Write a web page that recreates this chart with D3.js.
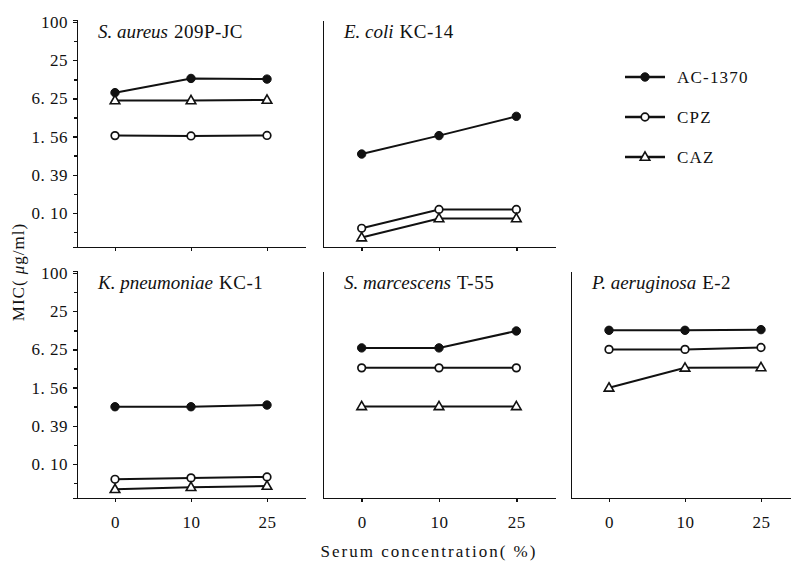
<!DOCTYPE html>
<html>
<head>
<meta charset="utf-8">
<script src="https://cdn.jsdelivr.net/npm/d3@7"></script>
<style>
  body { margin: 0; background: #fff; }
  text { font-family: "Liberation Serif", "Times New Roman", serif; fill: #111; }
  .axis path, .axis line { stroke: #111; stroke-width: 1.5; shape-rendering: crispEdges; }
  .axis text { font-size: 17px; letter-spacing: 0.5px; }
</style>
</head>
<body>
<div id="chart"></div>
<script>
// data (MIC, ug/ml)
var concentrations = ["0", "10", "25"];
var organisms = ["S. aureus", "E. coli", "K. pneumoniae", "S. marcescens", "P. aeruginosa"];
var strains = ["209P-JC", "KC-14", "KC-1", "T-55", "E-2"];
var drugs = ["AC-1370", "CPZ", "CAZ"];
var ac1370 = [[7.7, 12.9, 12.6], [0.83, 1.62, 3.26], [0.78, 0.78, 0.83], [6.6, 6.6, 12.2], [12.5, 12.5, 12.8]];
var cpz = [[1.62, 1.6, 1.63], [0.056, 0.111, 0.111], [0.056, 0.059, 0.061], [3.2, 3.2, 3.2], [6.25, 6.25, 6.7]];
var caz = [[5.8, 5.8, 5.9], [0.040, 0.080, 0.080], [0.039, 0.042, 0.044], [0.79, 0.79, 0.79], [1.55, 3.2, 3.25]];
var yTickValues = [100, 25, 6.25, 1.5625, 0.390625, 0.09765625];
var yTickLabels = ["100", "25", "6. 25", "1. 56", "0. 39", "0. 10"];
var yMinorValues = [50, 12.5, 3.125, 0.78125, 0.1953125, 0.048828125];

var seriesValues = [ac1370, cpz, caz];
var markerKind = ["filled", "open", "triangle"];

// svg params
var svgWidth = 791;
var svgHeight = 569;

var svg = d3.select("#chart").append("svg")
  .attr("width", svgWidth)
  .attr("height", svgHeight);

// panel layout: column x of the y axis, row top, widths
var colX = [77, 323, 571];
var colW = [228, 232, 228];
var rowTop = [20, 271];
var panelH = 227;
var panelCell = [[0, 0], [0, 1], [1, 0], [1, 1], [1, 2]];

function yScaleFor(top) {
  // 100 sits 2px below the top, 0.10 sits 193px below
  var s = d3.scaleLog().domain([0.09765625, 100]).range([top + 193, top + 2]);
  return d3.scaleLog()
    .domain([s.invert(top + panelH), s.invert(top)])
    .range([top + panelH, top]);
}

function drawMarker(g, kind, x, y) {
  if (kind === "filled") {
    g.append("circle").attr("cx", x).attr("cy", y).attr("r", 4.2)
      .attr("fill", "#111").attr("stroke", "#111").attr("stroke-width", 1);
  } else if (kind === "open") {
    g.append("circle").attr("cx", x).attr("cy", y).attr("r", 3.8)
      .attr("fill", "#fff").attr("stroke", "#111").attr("stroke-width", 1.7);
  } else {
    g.append("path")
      .attr("d", d3.symbol().type(d3.symbolTriangle).size(40)())
      .attr("transform", `translate(${x}, ${y + 0.5})`)
      .attr("fill", "#fff").attr("stroke", "#111").attr("stroke-width", 1.6);
  }
}

organisms.forEach(function(org, i) {
  var row = panelCell[i][0], col = panelCell[i][1];
  var x0 = colX[col], top = rowTop[row];
  var yScale = yScaleFor(top);
  var xScale = d3.scalePoint()
    .domain(concentrations)
    .range([x0, x0 + colW[col]])
    .padding(0.5);

  var panel = svg.append("g");

  // x axis
  panel.append("g")
    .attr("class", "axis")
    .attr("transform", `translate(0, ${top + panelH})`)
    .call(d3.axisBottom(xScale).tickSize(4).tickSizeOuter(0).tickPadding(14)
      .tickFormat(row === 1 ? (d => d) : ""));

  // y axis
  var yAxis = d3.axisLeft(yScale).tickSizeOuter(0);
  if (col === 0) {
    yAxis.tickValues(yTickValues).tickSize(4).tickPadding(5)
      .tickFormat((d, k) => yTickLabels[k]);
  } else {
    yAxis.tickValues([]);
  }
  panel.append("g")
    .attr("class", "axis")
    .attr("transform", `translate(${x0}, 0)`)
    .call(yAxis);
  if (col === 0) {
    panel.append("g")
      .attr("class", "axis")
      .attr("transform", `translate(${x0}, 0)`)
      .call(d3.axisLeft(yScale).tickValues(yMinorValues).tickSize(3).tickFormat(""))
      .select(".domain").remove();
  }

  // panel title
  var title = panel.append("text")
    .attr("x", x0 + 21)
    .attr("y", top + 18)
    .style("font-size", "19px");
  title.append("tspan").style("font-style", "italic").text(org);
  title.append("tspan").attr("dx", 6).style("letter-spacing", "0.5px").text(strains[i]);

  // lines then markers
  seriesValues.forEach(function(series, s) {
    var vals = series[i];
    var line = d3.line()
      .x((d, k) => xScale(concentrations[k]))
      .y(d => yScale(d));
    panel.append("path")
      .datum(vals)
      .attr("d", line)
      .attr("fill", "none")
      .attr("stroke", "#111")
      .attr("stroke-width", 2);
  });
  seriesValues.forEach(function(series, s) {
    series[i].forEach(function(v, k) {
      drawMarker(panel, markerKind[s], xScale(concentrations[k]), yScale(v));
    });
  });
});

// legend
var legend = svg.append("g").attr("transform", "translate(625, 77)");
drugs.forEach(function(name, s) {
  var g = legend.append("g").attr("transform", `translate(0, ${s * 40})`);
  g.append("line").attr("x1", 0).attr("x2", 40).attr("y1", 0).attr("y2", 0)
    .attr("stroke", "#111").attr("stroke-width", 2.5);
  drawMarker(g, markerKind[s], 20, 0);
  g.append("text")
    .attr("x", 52)
    .attr("y", 6)
    .style("font-size", "17px")
    .style("letter-spacing", "1.2px")
    .text(name);
});

// y axis title
var yTitle = svg.append("text")
  .attr("transform", "translate(24, 272) rotate(-90)")
  .attr("text-anchor", "middle")
  .style("font-size", "17px")
  .style("letter-spacing", "1px");
yTitle.append("tspan").text("MIC( ");
yTitle.append("tspan").style("font-style", "italic").text("μ");
yTitle.append("tspan").text("g/ml)");

// x axis title
svg.append("text")
  .attr("x", 429)
  .attr("y", 557)
  .attr("text-anchor", "middle")
  .style("font-size", "17px")
  .style("letter-spacing", "2px")
  .text("Serum concentration( %)");
</script>
</body>
</html>
